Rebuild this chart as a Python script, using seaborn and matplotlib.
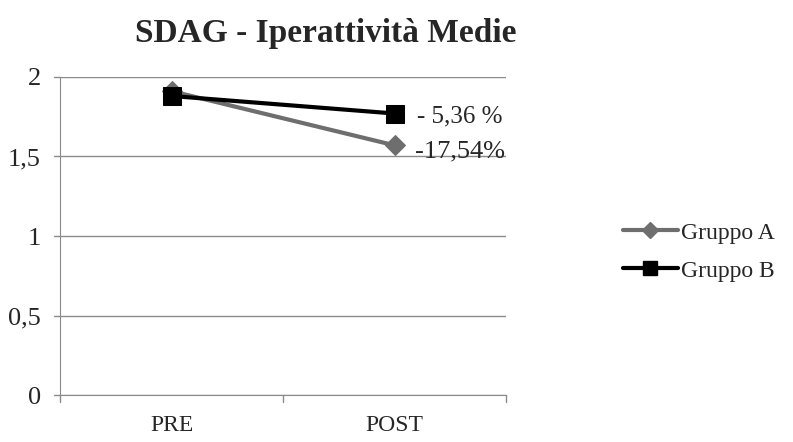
import numpy as np
import pandas as pd
import matplotlib
matplotlib.use("Agg")
import matplotlib.pyplot as plt
import seaborn as sns
from matplotlib.lines import Line2D

# data
phases = ["PRE", "POST"]
gruppo_a = [1.91, 1.57]
gruppo_b = [1.88, 1.77]
labels = ["- 5,36 %", "-17,54%"]
y_ticks = [0, 0.5, 1, 1.5, 2]
y_tick_labels = ["0", "0,5", "1", "1,5", "2"]

df = pd.DataFrame({
    "fase": phases * 2,
    "valore": gruppo_a + gruppo_b,
    "gruppo": ["Gruppo A"] * 2 + ["Gruppo B"] * 2,
})

sns.set_style("white")
plt.rcParams["font.family"] = ["Liberation Serif", "DejaVu Serif"]

fig = plt.figure(figsize=(7.93, 4.42), dpi=100)
ax = fig.add_axes([0.076, 0.106, 0.562, 0.72])

colors = {"Gruppo A": "#6e6e6e", "Gruppo B": "#000000"}
markers = {"Gruppo A": "D", "Gruppo B": "s"}
sizes = {"Gruppo A": 10, "Gruppo B": 13}

# draw B on top of A
for g in ["Gruppo A", "Gruppo B"]:
    sub = df[df["gruppo"] == g]
    sns.lineplot(data=sub, x="fase", y="valore", ax=ax, color=colors[g],
                 marker=markers[g], markersize=sizes[g], linewidth=3,
                 markeredgecolor=colors[g], sort=False, legend=False)

ax.set_xlim(-0.5, 1.5)
ax.set_ylim(0, 2)
ax.set_yticks(y_ticks)
ax.set_yticklabels(y_tick_labels, fontsize=19)
ax.set_xticks([0, 1])
ax.set_xticklabels(phases, fontsize=17)
ax.set_xlabel("")
ax.set_ylabel("")
ax.tick_params(axis="x", length=0, pad=14)
ax.tick_params(axis="y", length=0, pad=14)
ax.grid(axis="y", color="#8a8a8a", linewidth=1)
ax.set_axisbelow(True)
for s in ["top", "right"]:
    ax.spines[s].set_visible(False)
ax.spines["left"].set_color("#8a8a8a")
ax.spines["bottom"].set_color("#8a8a8a")

# tick marks like the reference: short left stubs and category separators
for y in y_ticks:
    ax.plot([-0.53, -0.5], [y, y], color="#8a8a8a", lw=1, clip_on=False)
for xb in [-0.5, 0.5, 1.5]:
    ax.plot([xb, xb], [0, -0.04], color="#8a8a8a", lw=1, clip_on=False)

ax.text(1.1, gruppo_b[1] - 0.02, labels[0], fontsize=18, va="center", ha="left")
ax.text(1.09, gruppo_a[1] - 0.04, labels[1], fontsize=19, va="center", ha="left")

fig.text(0.411, 0.925, "SDAG - Iperattività Medie", fontsize=24,
         fontweight="bold", ha="center", va="center")

handles = [
    Line2D([], [], color=colors["Gruppo A"], marker="D", markersize=8, lw=3),
    Line2D([], [], color=colors["Gruppo B"], marker="s", markersize=10, lw=3),
]
fig.legend(handles, ["Gruppo A", "Gruppo B"], loc="center left",
           bbox_to_anchor=(0.786, 0.43), frameon=False, fontsize=17,
           handlelength=2.3, handletextpad=0.15, labelspacing=0.7,
           borderaxespad=0, borderpad=0)

fig.savefig("out.png", dpi=100)
